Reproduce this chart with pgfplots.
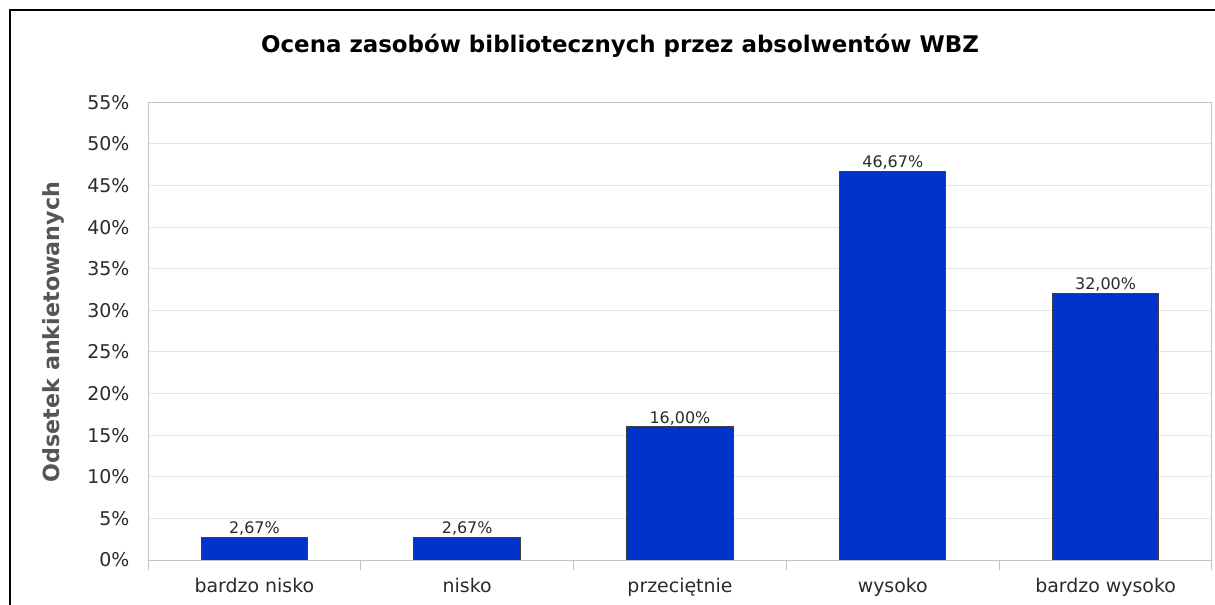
\documentclass[border=0pt]{standalone}
\usepackage{fontspec}
\setmainfont{DejaVu Sans}
\usepackage{pgfplots}
\pgfplotsset{compat=1.18}

\definecolor{barblue}{HTML}{0033CC}
\definecolor{baredge}{HTML}{404040}
\definecolor{gridgray}{HTML}{E4E4E4}
\definecolor{axisgray}{HTML}{C4C4C4}
\definecolor{txtgray}{HTML}{2A2A2A}
\definecolor{labgray}{HTML}{555555}

\begin{document}
\begin{tikzpicture}
\useasboundingbox (0,0) rectangle (1215bp,605bp);
% frame (only left and top edges are visible in the crop)
\draw[line width=2bp] (10bp,-2bp) -- (10bp,595bp) -- (1217bp,595bp);

\node[font=\fontsize{23}{26}\selectfont\bfseries, anchor=base] at (620bp,552bp)
  {Ocena zasobów bibliotecznych przez absolwentów WBZ};
\node[font=\fontsize{22.3}{25}\selectfont\bfseries, text=labgray, rotate=90] at (53bp,273bp)
  {Odsetek ankietowanych};

\begin{axis}[
  at={(148bp,45bp)}, anchor=south west,
  scale only axis, width=1064bp, height=457.6bp,
  ybar, bar width=0.5,
  xmin=-0.5, xmax=4.5,
  ymin=0, ymax=55,
  xtick={0,1,2,3,4},
  xticklabels={bardzo nisko, nisko, przeciętnie, wysoko, bardzo wysoko},
  minor xtick={-0.5,0.5,1.5,2.5,3.5,4.5},
  ytick distance=5,
  yticklabel={\pgfmathprintnumber{\tick}\%},
  /pgf/number format/assume math mode=true,
  major tick length=0pt,
  minor tick length=10bp,
  tick align=outside,
  xtick pos=lower, ytick pos=left,
  minor tick style={draw=axisgray, line width=1bp},
  axis line style={draw=axisgray, line width=1bp},
  ymajorgrids, grid style={draw=gridgray, line width=1bp},
  tick label style={font=\fontsize{19}{22}\selectfont, text=txtgray},
  xticklabel style={yshift=-15bp},
  yticklabel style={xshift=-15bp},
  nodes near coords={\pgfmathprintnumber[fixed,fixed zerofill,precision=2,use comma]{\pgfplotspointmeta}\%},
  every node near coord/.append style={font=\fontsize{16}{18}\selectfont, text=txtgray, inner sep=1.5bp, /pgf/number format/assume math mode=true},
]
\addplot[fill=barblue, draw=baredge, line width=1bp] coordinates {
  (0,2.67) (1,2.67) (2,16.00) (3,46.67) (4,32.00)
};
\end{axis}
\end{tikzpicture}
\end{document}
